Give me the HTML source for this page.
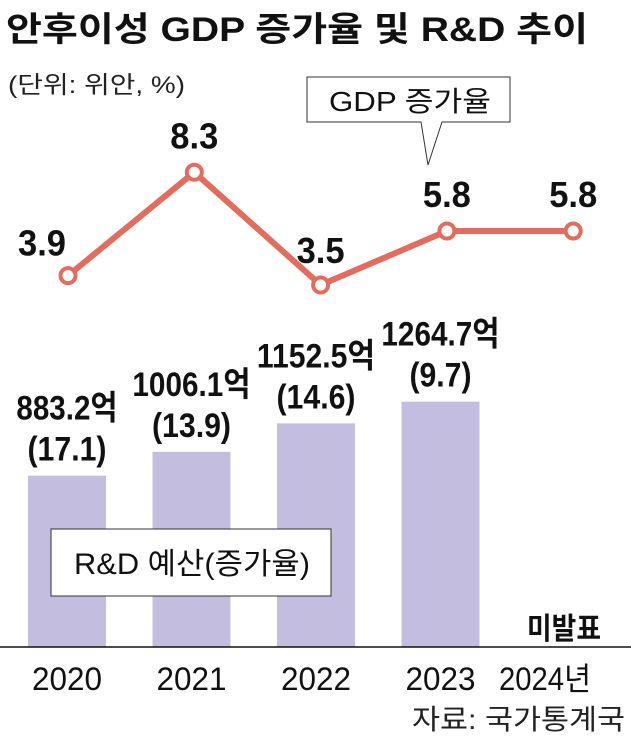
<!DOCTYPE html>
<html><head><meta charset="utf-8">
<style>
html,body{margin:0;padding:0;background:#fff;}
svg{display:block;font-family:"Liberation Sans","Noto Sans CJK KR",sans-serif;}
</style></head>
<body>
<svg id="chart" width="631" height="738" viewBox="0 0 631 738">
  <text x="6" y="41" font-size="34" font-weight="bold" fill="#111" textLength="582" lengthAdjust="spacingAndGlyphs">안후이성 GDP 증가율 및 R&amp;D 추이</text>
  <text x="8" y="93" font-size="24" fill="#222" textLength="177" lengthAdjust="spacingAndGlyphs">(단위: 위안, %)</text>
  <g>
    <polygon points="307,77 510,77 510,122 442,122 428,165 421,122 307,122" fill="#fff" stroke="#333" stroke-width="1"/>
    <text x="410" y="111" font-size="28" text-anchor="middle" fill="#111" textLength="162" lengthAdjust="spacingAndGlyphs">GDP 증가율</text>
  </g>
  <g id="bars"></g>
  <g id="line"></g>
  <line x1="0" y1="647" x2="631" y2="647" stroke="#111" stroke-width="1.5"/>
  <g id="xlabels"></g>
  <g>
    <rect x="51" y="529" width="280" height="67" fill="#fff" stroke="#333" stroke-width="1"/>
    <text x="192" y="574" font-size="30" text-anchor="middle" fill="#111" textLength="236" lengthAdjust="spacingAndGlyphs">R&amp;D 예산(증가율)</text>
  </g>
  <text x="601" y="639" font-size="30" font-weight="bold" text-anchor="end" fill="#111" textLength="74" lengthAdjust="spacingAndGlyphs">미발표</text>
  <text x="625" y="729" font-size="28" text-anchor="end" fill="#222" textLength="213" lengthAdjust="spacingAndGlyphs">자료: 국가통계국</text>
</svg>
<script>
const years = ["2020","2021","2022","2023","2024년"];
const gdpGrowth = [3.9, 8.3, 3.5, 5.8, 5.8];
const gdpLabels = ["3.9","8.3","3.5","5.8","5.8"];
const rdBudget = [883.2, 1006.1, 1152.5, 1264.7];
const rdLabels = ["883.2억","1006.1억","1152.5억","1264.7억"];
const rdGrowthLabels = ["(17.1)","(13.9)","(14.6)","(9.7)"];

const NS = "http://www.w3.org/2000/svg";
function xPos(i){ return 67 + i*124.5; }
function xLine(i){ return 68 + i*126.3; }
function yLine(v){ return 367.3 - v*23.5; }
function yBar(v){ return 647 - v*0.194; }
function textW(s, digit){
  let w = 0;
  for (const ch of s){
    if (/[0-9]/.test(ch)) w += digit;
    else if (ch === '.') w += digit*0.45;
    else if (ch === '(' || ch === ')') w += digit*0.6;
    else w += digit*1.5;
  }
  return w;
}
function mk(tag, attrs, parent){
  const e = document.createElementNS(NS, tag);
  for (const k in attrs) e.setAttribute(k, attrs[k]);
  parent.appendChild(e);
  return e;
}
const bars = document.getElementById('bars');
rdBudget.forEach((v,i)=>{
  const cx = xPos(i);
  const r = mk('rect',{x:cx-39,y:yBar(v),width:78,height:647-yBar(v),fill:'#c3bddf'},bars);
  
  
  const t1 = mk('text',{x:cx,y:yBar(v)-56,'font-size':34,'text-anchor':'middle',fill:'#111','font-weight':'bold',textLength:String(textW(rdLabels[i],17)),lengthAdjust:'spacingAndGlyphs'},bars);
  t1.textContent = rdLabels[i];
  
  
  const t2 = mk('text',{x:cx,y:yBar(v)-15,'font-size':34,'text-anchor':'middle',fill:'#111','font-weight':'bold',textLength:String(textW(rdGrowthLabels[i],17)),lengthAdjust:'spacingAndGlyphs'},bars);
  t2.textContent = rdGrowthLabels[i];
  
  
});
const line = document.getElementById('line');
const pts = gdpGrowth.map((v,i)=>xLine(i)+','+yLine(v)).join(' ');
const pl = mk('polyline',{points:pts,fill:'none',stroke:'#e36c5e','stroke-width':6,'stroke-linejoin':'round'},line);


gdpGrowth.forEach((v,i)=>{
  const c = mk('circle',{cx:xLine(i),cy:yLine(v),r:7.5,fill:'#fff',stroke:'#e36c5e','stroke-width':4},line);
  
  
  const lx = i===0 ? xLine(i)-26 : xLine(i);
  const ly = i===0 ? yLine(v)-20 : (i===2 ? yLine(v)-22 : yLine(v)-24);
  const t = mk('text',{x:lx,y:ly,'font-size':36,'text-anchor':'middle',fill:'#111','font-weight':'bold',textLength:'48',lengthAdjust:'spacingAndGlyphs'},line);
  t.textContent = gdpLabels[i];
  
  
});
const xl = document.getElementById('xlabels');
years.forEach((y,i)=>{
  const t = mk('text',{x:i===4?xPos(i)-20:xPos(i),y:690,'font-size':32,'text-anchor':'middle',fill:'#111',textLength:String(i===4?92:70),lengthAdjust:'spacingAndGlyphs'},xl);
  t.textContent = y;
  
  
});
</script>
</body></html>
